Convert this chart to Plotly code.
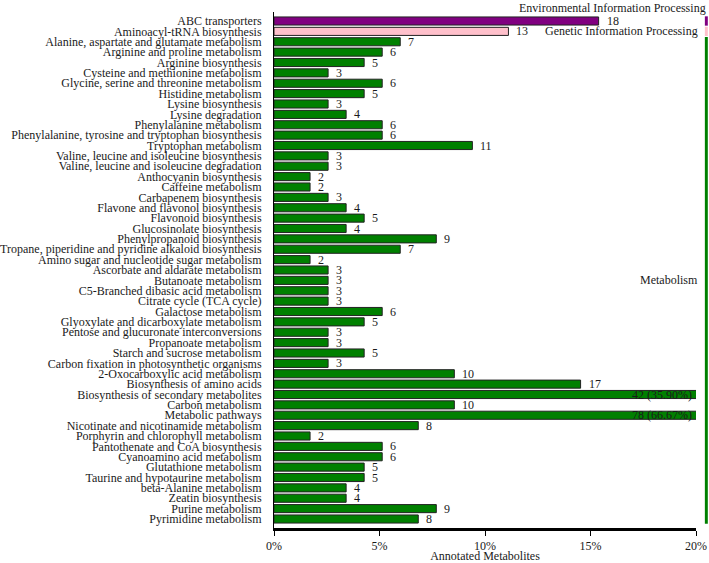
import plotly.graph_objects as go

categories = [
    "ABC transporters",
    "Aminoacyl-tRNA biosynthesis",
    "Alanine, aspartate and glutamate metabolism",
    "Arginine and proline metabolism",
    "Arginine biosynthesis",
    "Cysteine and methionine metabolism",
    "Glycine, serine and threonine metabolism",
    "Histidine metabolism",
    "Lysine biosynthesis",
    "Lysine degradation",
    "Phenylalanine metabolism",
    "Phenylalanine, tyrosine and tryptophan biosynthesis",
    "Tryptophan metabolism",
    "Valine, leucine and isoleucine biosynthesis",
    "Valine, leucine and isoleucine degradation",
    "Anthocyanin biosynthesis",
    "Caffeine metabolism",
    "Carbapenem biosynthesis",
    "Flavone and flavonol biosynthesis",
    "Flavonoid biosynthesis",
    "Glucosinolate biosynthesis",
    "Phenylpropanoid biosynthesis",
    "Tropane, piperidine and pyridine alkaloid biosynthesis",
    "Amino sugar and nucleotide sugar metabolism",
    "Ascorbate and aldarate metabolism",
    "Butanoate metabolism",
    "C5-Branched dibasic acid metabolism",
    "Citrate cycle (TCA cycle)",
    "Galactose metabolism",
    "Glyoxylate and dicarboxylate metabolism",
    "Pentose and glucuronate interconversions",
    "Propanoate metabolism",
    "Starch and sucrose metabolism",
    "Carbon fixation in photosynthetic organisms",
    "2-Oxocarboxylic acid metabolism",
    "Biosynthesis of amino acids",
    "Biosynthesis of secondary metabolites",
    "Carbon metabolism",
    "Metabolic pathways",
    "Nicotinate and nicotinamide metabolism",
    "Porphyrin and chlorophyll metabolism",
    "Pantothenate and CoA biosynthesis",
    "Cyanoamino acid metabolism",
    "Glutathione metabolism",
    "Taurine and hypotaurine metabolism",
    "beta-Alanine metabolism",
    "Zeatin biosynthesis",
    "Purine metabolism",
    "Pyrimidine metabolism",
]
counts = [18, 13, 7, 6, 5, 3, 6, 5, 3, 4, 6, 6, 11, 3, 3, 2, 2, 3, 4, 5, 4, 9, 7,
          2, 3, 3, 3, 3, 6, 5, 3, 3, 5, 3, 10, 17, 42, 10, 78, 8, 2, 6, 6, 5, 5,
          4, 4, 9, 8]
total_metabolites = 117
groups = ["Environmental Information Processing", "Genetic Information Processing", "Metabolism"]
group_sizes = [1, 1, 47]
group_colors = ["#800080", "#FFC0CB", "#008000"]
x_max = 20
x_ticks = [0, 5, 10, 15, 20]

pct = [c / total_metabolites * 100 for c in counts]
bar_colors = []
for g, n in enumerate(group_sizes):
    bar_colors += [group_colors[g]] * n

FONT = '"Liberation Serif", "Times New Roman", serif'
TXT = "#1a1a1a"
FS = 12

fig = go.Figure()
fig.add_trace(go.Bar(
    y=categories, x=pct, orientation="h",
    marker=dict(color=bar_colors, line=dict(color="#222222", width=1)),
    width=0.78, hoverinfo="skip",
))

annotations = []
for cat, c, p in zip(categories, counts, pct):
    if p > x_max:
        annotations.append(dict(x=x_max, y=cat, xref="x", yref="y",
                                text=f"{c} ({p:.2f}%)", showarrow=False,
                                xanchor="right", xshift=-2,
                                font=dict(family=FONT, size=FS, color=TXT)))
    else:
        annotations.append(dict(x=p, y=cat, xref="x", yref="y",
                                text=str(c), showarrow=False,
                                xanchor="left", xshift=6,
                                font=dict(family=FONT, size=FS, color=TXT)))

shapes = []
start = 0
label_pos = []
for g, n in enumerate(group_sizes):
    end = start + n - 1
    shapes.append(dict(type="rect", xref="paper", yref="y",
                       x0=1.021, x1=1.028, y0=start - 0.45, y1=end + 0.45,
                       fillcolor=group_colors[g], line=dict(width=0)))
    label_pos.append((start + end) / 2)
    start = end + 1

annotations.append(dict(x=1.028, y=label_pos[0], xref="paper", yref="y",
                        text=groups[0], showarrow=False, xanchor="right",
                        yshift=13, font=dict(family=FONT, size=FS, color=TXT)))
annotations.append(dict(x=1.01, y=label_pos[1], xref="paper", yref="y",
                        text=groups[1], showarrow=False, xanchor="right",
                        yshift=0, font=dict(family=FONT, size=FS, color=TXT)))
annotations.append(dict(x=1.01, y=label_pos[2], xref="paper", yref="y",
                        text=groups[2], showarrow=False, xanchor="right",
                        font=dict(family=FONT, size=FS, color=TXT)))

fig.update_layout(
    width=709, height=563,
    margin=dict(l=274, r=13, t=12, b=35),
    plot_bgcolor="white", paper_bgcolor="white",
    showlegend=False,
    font=dict(family=FONT, size=FS, color=TXT),
    shapes=shapes,
    annotations=annotations,
)
fig.update_yaxes(
    type="category", autorange="reversed",
    tickmode="array", tickvals=categories, ticktext=categories,
    showline=True, linecolor="black", linewidth=1,
    ticks="", showgrid=False, ticklabelstandoff=9, automargin=False,
    tickfont=dict(family=FONT, size=FS, color=TXT),
)
fig.update_xaxes(
    range=[0, x_max], tickvals=x_ticks,
    ticktext=[f"{t}%" for t in x_ticks],
    showline=True, linecolor="black", linewidth=3,
    ticks="outside", ticklen=5, tickwidth=1, tickcolor="black",
    showgrid=False, zeroline=False, automargin=False,
    tickfont=dict(family=FONT, size=FS, color=TXT),
    title=dict(text="Annotated Metabolites", standoff=1,
               font=dict(family=FONT, size=FS, color=TXT)),
)

fig.write_html(
    "out.html",
    config={"displayModeBar": False},
    post_script="document.body.style.margin='0';document.body.style.overflow='hidden';",
)
